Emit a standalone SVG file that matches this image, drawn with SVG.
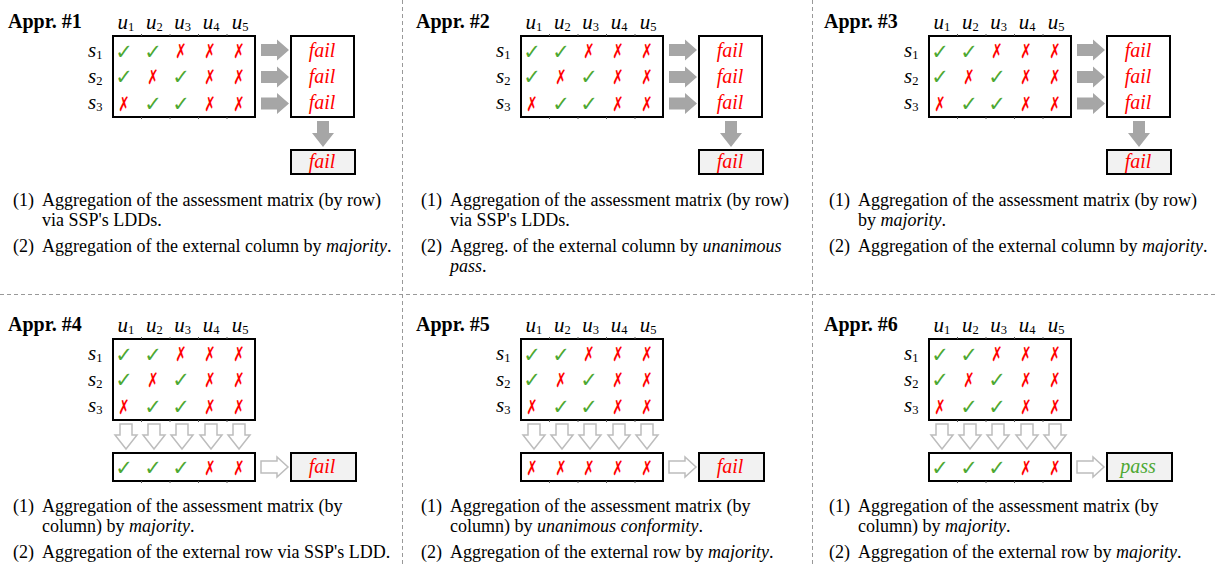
<svg xmlns="http://www.w3.org/2000/svg" width="1215" height="567" viewBox="0 0 1215 567">
<style>
.title{font-family:"Liberation Serif",serif;font-weight:bold;font-size:20px;fill:#000}
.var{font-family:"Liberation Serif",serif;font-style:italic;font-size:21px;fill:#000}
.sub{font-style:normal;font-size:12.5px}
.ok{font-family:"DejaVu Sans",sans-serif;font-size:21px;fill:#4da832;text-anchor:middle}
.no{font-family:"DejaVu Sans",sans-serif;font-size:20px;fill:#ff0000;text-anchor:middle;transform-box:fill-box;transform-origin:center;transform:scaleX(0.68)}
.box{fill:#fff;stroke:#000;stroke-width:2}
.res{fill:#f2f2f2;stroke:#000;stroke-width:2}
.tick{stroke:#555;stroke-width:1}
.fail{font-family:"Liberation Serif",serif;font-style:italic;font-size:20px;fill:#ff0000;text-anchor:middle}
.pass{font-family:"Liberation Serif",serif;font-style:italic;font-size:20px;fill:#4da832;text-anchor:middle}
.desc{font-family:"Liberation Serif",serif;font-size:18px;fill:#000}
.it{font-style:italic}
.garrow{fill:#a6a6a6}
.harrow{fill:#fff;stroke:#bdbdbd;stroke-width:1.5}
.sep{stroke:#999;stroke-width:1;stroke-dasharray:4 3;fill:none}
</style>

<g id="separators">
<line class="sep" x1="402.5" y1="0" x2="402.5" y2="567"/>
<line class="sep" x1="812.5" y1="0" x2="812.5" y2="567"/>
<line class="sep" x1="0" y1="294.5" x2="1215" y2="294.5"/>
</g>

<!-- Panel 1 -->
<g id="appr1">
<text class="title" x="8" y="28">Appr. #1</text>
<text class="var" x="117.5" y="29">u<tspan class="sub" dy="2">1</tspan></text>
<text class="var" x="146" y="29">u<tspan class="sub" dy="2">2</tspan></text>
<text class="var" x="174.3" y="29">u<tspan class="sub" dy="2">3</tspan></text>
<text class="var" x="202.7" y="29">u<tspan class="sub" dy="2">4</tspan></text>
<text class="var" x="231.7" y="29">u<tspan class="sub" dy="2">5</tspan></text>
<text class="var" x="88" y="57">s<tspan class="sub" dy="2">1</tspan></text>
<text class="var" x="88" y="83">s<tspan class="sub" dy="2">2</tspan></text>
<text class="var" x="88" y="109">s<tspan class="sub" dy="2">3</tspan></text>
<rect class="box" x="113" y="36" width="142" height="81"/>
<path class="tick" d="M141.5 34v2M170 34v2M198.5 34v2M227 34v2M141.5 117v2M170 117v2M198.5 117v2M227 117v2"/>
<text class="ok" x="124" y="58.5">✓</text><text class="ok" x="153" y="58.5">✓</text><text class="no" x="181" y="58.5">✗</text><text class="no" x="210" y="58.5">✗</text><text class="no" x="239" y="58.5">✗</text>
<text class="ok" x="124" y="84">✓</text><text class="no" x="153" y="84">✗</text><text class="ok" x="181" y="84">✓</text><text class="no" x="210" y="84">✗</text><text class="no" x="239" y="84">✗</text>
<text class="no" x="124" y="111">✗</text><text class="ok" x="153" y="111">✓</text><text class="ok" x="181" y="111">✓</text><text class="no" x="210" y="111">✗</text><text class="no" x="239" y="111">✗</text>
<rect class="box" x="291" y="36" width="63" height="81"/>
<text class="fail" x="322" y="57">fail</text>
<text class="fail" x="322" y="83">fail</text>
<text class="fail" x="322" y="109">fail</text>
<rect class="res" x="291" y="150" width="64" height="24"/>
<text class="fail" x="322" y="168">fail</text>
<text class="desc" x="13" y="206">(1)<tspan x="42">Aggregation of the assessment matrix (by row)</tspan></text>
<text class="desc" x="42" y="225.5">via SSP's LDDs.</text>
<text class="desc" x="13" y="252">(2)<tspan x="42">Aggregation of the external column by </tspan><tspan class="it">majority</tspan>.</text>
</g>

<!-- Panel 2 -->
<g id="appr2" transform="translate(408,0)">
<text class="title" x="8" y="28">Appr. #2</text>
<text class="var" x="117.5" y="29">u<tspan class="sub" dy="2">1</tspan></text>
<text class="var" x="146" y="29">u<tspan class="sub" dy="2">2</tspan></text>
<text class="var" x="174.3" y="29">u<tspan class="sub" dy="2">3</tspan></text>
<text class="var" x="202.7" y="29">u<tspan class="sub" dy="2">4</tspan></text>
<text class="var" x="231.7" y="29">u<tspan class="sub" dy="2">5</tspan></text>
<text class="var" x="88" y="57">s<tspan class="sub" dy="2">1</tspan></text>
<text class="var" x="88" y="83">s<tspan class="sub" dy="2">2</tspan></text>
<text class="var" x="88" y="109">s<tspan class="sub" dy="2">3</tspan></text>
<rect class="box" x="113" y="36" width="142" height="81"/>
<path class="tick" d="M141.5 34v2M170 34v2M198.5 34v2M227 34v2M141.5 117v2M170 117v2M198.5 117v2M227 117v2"/>
<text class="ok" x="124" y="58.5">✓</text><text class="ok" x="153" y="58.5">✓</text><text class="no" x="181" y="58.5">✗</text><text class="no" x="210" y="58.5">✗</text><text class="no" x="239" y="58.5">✗</text>
<text class="ok" x="124" y="84">✓</text><text class="no" x="153" y="84">✗</text><text class="ok" x="181" y="84">✓</text><text class="no" x="210" y="84">✗</text><text class="no" x="239" y="84">✗</text>
<text class="no" x="124" y="111">✗</text><text class="ok" x="153" y="111">✓</text><text class="ok" x="181" y="111">✓</text><text class="no" x="210" y="111">✗</text><text class="no" x="239" y="111">✗</text>
<rect class="box" x="291" y="36" width="63" height="81"/>
<text class="fail" x="322" y="57">fail</text>
<text class="fail" x="322" y="83">fail</text>
<text class="fail" x="322" y="109">fail</text>
<rect class="res" x="291" y="150" width="64" height="24"/>
<text class="fail" x="322" y="168">fail</text>
<text class="desc" x="13" y="206">(1)<tspan x="42">Aggregation of the assessment matrix (by row)</tspan></text>
<text class="desc" x="42" y="225.5">via SSP's LDDs.</text>
<text class="desc" x="13" y="252">(2)<tspan x="42">Aggreg. of the external column by </tspan><tspan class="it">unanimous</tspan></text>
<text class="desc" x="42" y="271.5"><tspan class="it">pass</tspan>.</text>
</g>

<!-- Panel 3 -->
<g id="appr3" transform="translate(816,0)">
<text class="title" x="8" y="28">Appr. #3</text>
<text class="var" x="117.5" y="29">u<tspan class="sub" dy="2">1</tspan></text>
<text class="var" x="146" y="29">u<tspan class="sub" dy="2">2</tspan></text>
<text class="var" x="174.3" y="29">u<tspan class="sub" dy="2">3</tspan></text>
<text class="var" x="202.7" y="29">u<tspan class="sub" dy="2">4</tspan></text>
<text class="var" x="231.7" y="29">u<tspan class="sub" dy="2">5</tspan></text>
<text class="var" x="88" y="57">s<tspan class="sub" dy="2">1</tspan></text>
<text class="var" x="88" y="83">s<tspan class="sub" dy="2">2</tspan></text>
<text class="var" x="88" y="109">s<tspan class="sub" dy="2">3</tspan></text>
<rect class="box" x="113" y="36" width="142" height="81"/>
<path class="tick" d="M141.5 34v2M170 34v2M198.5 34v2M227 34v2M141.5 117v2M170 117v2M198.5 117v2M227 117v2"/>
<text class="ok" x="124" y="58.5">✓</text><text class="ok" x="153" y="58.5">✓</text><text class="no" x="181" y="58.5">✗</text><text class="no" x="210" y="58.5">✗</text><text class="no" x="239" y="58.5">✗</text>
<text class="ok" x="124" y="84">✓</text><text class="no" x="153" y="84">✗</text><text class="ok" x="181" y="84">✓</text><text class="no" x="210" y="84">✗</text><text class="no" x="239" y="84">✗</text>
<text class="no" x="124" y="111">✗</text><text class="ok" x="153" y="111">✓</text><text class="ok" x="181" y="111">✓</text><text class="no" x="210" y="111">✗</text><text class="no" x="239" y="111">✗</text>
<rect class="box" x="291" y="36" width="63" height="81"/>
<text class="fail" x="322" y="57">fail</text>
<text class="fail" x="322" y="83">fail</text>
<text class="fail" x="322" y="109">fail</text>
<rect class="res" x="291" y="150" width="64" height="24"/>
<text class="fail" x="322" y="168">fail</text>
<text class="desc" x="13" y="206">(1)<tspan x="42">Aggregation of the assessment matrix (by row)</tspan></text>
<text class="desc" x="42" y="225.5">by <tspan class="it">majority</tspan>.</text>
<text class="desc" x="13" y="252">(2)<tspan x="42">Aggregation of the external column by </tspan><tspan class="it">majority</tspan>.</text>
</g>

<!-- Panel 4 -->
<g id="appr4" transform="translate(0,303)">
<text class="title" x="8" y="28">Appr. #4</text>
<text class="var" x="117.5" y="29">u<tspan class="sub" dy="2">1</tspan></text>
<text class="var" x="146" y="29">u<tspan class="sub" dy="2">2</tspan></text>
<text class="var" x="174.3" y="29">u<tspan class="sub" dy="2">3</tspan></text>
<text class="var" x="202.7" y="29">u<tspan class="sub" dy="2">4</tspan></text>
<text class="var" x="231.7" y="29">u<tspan class="sub" dy="2">5</tspan></text>
<text class="var" x="88" y="57">s<tspan class="sub" dy="2">1</tspan></text>
<text class="var" x="88" y="83">s<tspan class="sub" dy="2">2</tspan></text>
<text class="var" x="88" y="109">s<tspan class="sub" dy="2">3</tspan></text>
<rect class="box" x="113" y="36" width="142" height="81"/>
<path class="tick" d="M141.5 34v2M170 34v2M198.5 34v2M227 34v2M141.5 117v2M170 117v2M198.5 117v2M227 117v2"/>
<text class="ok" x="124" y="58.5">✓</text><text class="ok" x="153" y="58.5">✓</text><text class="no" x="181" y="58.5">✗</text><text class="no" x="210" y="58.5">✗</text><text class="no" x="239" y="58.5">✗</text>
<text class="ok" x="124" y="84">✓</text><text class="no" x="153" y="84">✗</text><text class="ok" x="181" y="84">✓</text><text class="no" x="210" y="84">✗</text><text class="no" x="239" y="84">✗</text>
<text class="no" x="124" y="111">✗</text><text class="ok" x="153" y="111">✓</text><text class="ok" x="181" y="111">✓</text><text class="no" x="210" y="111">✗</text><text class="no" x="239" y="111">✗</text>
<rect class="box" x="113" y="150" width="142" height="28"/>
<path class="tick" d="M141.5 178v2M170 178v2M198.5 178v2M227 178v2"/>
<text class="ok" x="124" y="172">✓</text><text class="ok" x="153" y="172">✓</text><text class="ok" x="181" y="172">✓</text><text class="no" x="210" y="172">✗</text><text class="no" x="239" y="172">✗</text>
<rect class="res" x="291" y="150" width="65" height="28"/>
<text class="fail" x="322" y="170">fail</text>
<text class="desc" x="13" y="209">(1)<tspan x="42">Aggregation of the assessment matrix (by</tspan></text>
<text class="desc" x="42" y="229">column) by <tspan class="it">majority</tspan>.</text>
<text class="desc" x="13" y="255">(2)<tspan x="42">Aggregation of the external row via SSP's LDD.</tspan></text>
</g>

<!-- Panel 5 -->
<g id="appr5" transform="translate(408,303)">
<text class="title" x="8" y="28">Appr. #5</text>
<text class="var" x="117.5" y="29">u<tspan class="sub" dy="2">1</tspan></text>
<text class="var" x="146" y="29">u<tspan class="sub" dy="2">2</tspan></text>
<text class="var" x="174.3" y="29">u<tspan class="sub" dy="2">3</tspan></text>
<text class="var" x="202.7" y="29">u<tspan class="sub" dy="2">4</tspan></text>
<text class="var" x="231.7" y="29">u<tspan class="sub" dy="2">5</tspan></text>
<text class="var" x="88" y="57">s<tspan class="sub" dy="2">1</tspan></text>
<text class="var" x="88" y="83">s<tspan class="sub" dy="2">2</tspan></text>
<text class="var" x="88" y="109">s<tspan class="sub" dy="2">3</tspan></text>
<rect class="box" x="113" y="36" width="142" height="81"/>
<path class="tick" d="M141.5 34v2M170 34v2M198.5 34v2M227 34v2M141.5 117v2M170 117v2M198.5 117v2M227 117v2"/>
<text class="ok" x="124" y="58.5">✓</text><text class="ok" x="153" y="58.5">✓</text><text class="no" x="181" y="58.5">✗</text><text class="no" x="210" y="58.5">✗</text><text class="no" x="239" y="58.5">✗</text>
<text class="ok" x="124" y="84">✓</text><text class="no" x="153" y="84">✗</text><text class="ok" x="181" y="84">✓</text><text class="no" x="210" y="84">✗</text><text class="no" x="239" y="84">✗</text>
<text class="no" x="124" y="111">✗</text><text class="ok" x="153" y="111">✓</text><text class="ok" x="181" y="111">✓</text><text class="no" x="210" y="111">✗</text><text class="no" x="239" y="111">✗</text>
<rect class="box" x="113" y="150" width="142" height="28"/>
<path class="tick" d="M141.5 178v2M170 178v2M198.5 178v2M227 178v2"/>
<text class="no" x="124" y="172">✗</text><text class="no" x="153" y="172">✗</text><text class="no" x="181" y="172">✗</text><text class="no" x="210" y="172">✗</text><text class="no" x="239" y="172">✗</text>
<rect class="res" x="291" y="150" width="65" height="28"/>
<text class="fail" x="322" y="170">fail</text>
<text class="desc" x="13" y="209">(1)<tspan x="42">Aggregation of the assessment matrix (by</tspan></text>
<text class="desc" x="42" y="229">column) by <tspan class="it">unanimous conformity</tspan>.</text>
<text class="desc" x="13" y="255">(2)<tspan x="42">Aggregation of the external row by </tspan><tspan class="it">majority</tspan>.</text>
</g>

<!-- Panel 6 -->
<g id="appr6" transform="translate(816,303)">
<text class="title" x="8" y="28">Appr. #6</text>
<text class="var" x="117.5" y="29">u<tspan class="sub" dy="2">1</tspan></text>
<text class="var" x="146" y="29">u<tspan class="sub" dy="2">2</tspan></text>
<text class="var" x="174.3" y="29">u<tspan class="sub" dy="2">3</tspan></text>
<text class="var" x="202.7" y="29">u<tspan class="sub" dy="2">4</tspan></text>
<text class="var" x="231.7" y="29">u<tspan class="sub" dy="2">5</tspan></text>
<text class="var" x="88" y="57">s<tspan class="sub" dy="2">1</tspan></text>
<text class="var" x="88" y="83">s<tspan class="sub" dy="2">2</tspan></text>
<text class="var" x="88" y="109">s<tspan class="sub" dy="2">3</tspan></text>
<rect class="box" x="113" y="36" width="142" height="81"/>
<path class="tick" d="M141.5 34v2M170 34v2M198.5 34v2M227 34v2M141.5 117v2M170 117v2M198.5 117v2M227 117v2"/>
<text class="ok" x="124" y="58.5">✓</text><text class="ok" x="153" y="58.5">✓</text><text class="no" x="181" y="58.5">✗</text><text class="no" x="210" y="58.5">✗</text><text class="no" x="239" y="58.5">✗</text>
<text class="ok" x="124" y="84">✓</text><text class="no" x="153" y="84">✗</text><text class="ok" x="181" y="84">✓</text><text class="no" x="210" y="84">✗</text><text class="no" x="239" y="84">✗</text>
<text class="no" x="124" y="111">✗</text><text class="ok" x="153" y="111">✓</text><text class="ok" x="181" y="111">✓</text><text class="no" x="210" y="111">✗</text><text class="no" x="239" y="111">✗</text>
<rect class="box" x="113" y="150" width="142" height="28"/>
<path class="tick" d="M141.5 178v2M170 178v2M198.5 178v2M227 178v2"/>
<text class="ok" x="124" y="172">✓</text><text class="ok" x="153" y="172">✓</text><text class="ok" x="181" y="172">✓</text><text class="no" x="210" y="172">✗</text><text class="no" x="239" y="172">✗</text>
<rect class="res" x="291" y="150" width="65" height="28"/>
<text class="pass" x="322" y="170">pass</text>
<text class="desc" x="13" y="209">(1)<tspan x="42">Aggregation of the assessment matrix (by</tspan></text>
<text class="desc" x="42" y="229">column) by <tspan class="it">majority</tspan>.</text>
<text class="desc" x="13" y="255">(2)<tspan x="42">Aggregation of the external row by </tspan><tspan class="it">majority</tspan>.</text>
</g>

<g id="connectors">
<g id="conn-top-1">
<polygon class="garrow" points="261,44 277,44 277,39.5 289,50 277,60.5 277,56 261,56"/>
<polygon class="garrow" points="261,71 277,71 277,66.5 289,77 277,87.5 277,83 261,83"/>
<polygon class="garrow" points="261,97.5 277,97.5 277,93 289,103.5 277,114 277,109.5 261,109.5"/>
<polygon class="garrow" points="317,121 329,121 329,133 334,133 323,147 312,133 317,133"/>
</g>
<g id="conn-top-2" transform="translate(408,0)">
<polygon class="garrow" points="261,44 277,44 277,39.5 289,50 277,60.5 277,56 261,56"/>
<polygon class="garrow" points="261,71 277,71 277,66.5 289,77 277,87.5 277,83 261,83"/>
<polygon class="garrow" points="261,97.5 277,97.5 277,93 289,103.5 277,114 277,109.5 261,109.5"/>
<polygon class="garrow" points="317,121 329,121 329,133 334,133 323,147 312,133 317,133"/>
</g>
<g id="conn-top-3" transform="translate(816,0)">
<polygon class="garrow" points="261,44 277,44 277,39.5 289,50 277,60.5 277,56 261,56"/>
<polygon class="garrow" points="261,71 277,71 277,66.5 289,77 277,87.5 277,83 261,83"/>
<polygon class="garrow" points="261,97.5 277,97.5 277,93 289,103.5 277,114 277,109.5 261,109.5"/>
<polygon class="garrow" points="317,121 329,121 329,133 334,133 323,147 312,133 317,133"/>
</g>
<g id="conn-bot-4" transform="translate(0,303)">
<polygon class="harrow" points="120,121 132,121 132,132 137,132 126,146 115,132 120,132"/>
<polygon class="harrow" points="148,121 160,121 160,132 165,132 154,146 143,132 148,132"/>
<polygon class="harrow" points="176,121 188,121 188,132 193,132 182,146 171,132 176,132"/>
<polygon class="harrow" points="205,121 217,121 217,132 222,132 211,146 200,132 205,132"/>
<polygon class="harrow" points="233,121 245,121 245,132 250,132 239,146 228,132 233,132"/>
<polygon class="harrow" points="261,158 277,158 277,154 288,164 277,174 277,170 261,170"/>
</g>
<g id="conn-bot-5" transform="translate(408,303)">
<polygon class="harrow" points="120,121 132,121 132,132 137,132 126,146 115,132 120,132"/>
<polygon class="harrow" points="148,121 160,121 160,132 165,132 154,146 143,132 148,132"/>
<polygon class="harrow" points="176,121 188,121 188,132 193,132 182,146 171,132 176,132"/>
<polygon class="harrow" points="205,121 217,121 217,132 222,132 211,146 200,132 205,132"/>
<polygon class="harrow" points="233,121 245,121 245,132 250,132 239,146 228,132 233,132"/>
<polygon class="harrow" points="261,158 277,158 277,154 288,164 277,174 277,170 261,170"/>
</g>
<g id="conn-bot-6" transform="translate(816,303)">
<polygon class="harrow" points="120,121 132,121 132,132 137,132 126,146 115,132 120,132"/>
<polygon class="harrow" points="148,121 160,121 160,132 165,132 154,146 143,132 148,132"/>
<polygon class="harrow" points="176,121 188,121 188,132 193,132 182,146 171,132 176,132"/>
<polygon class="harrow" points="205,121 217,121 217,132 222,132 211,146 200,132 205,132"/>
<polygon class="harrow" points="233,121 245,121 245,132 250,132 239,146 228,132 233,132"/>
<polygon class="harrow" points="261,158 277,158 277,154 288,164 277,174 277,170 261,170"/>
</g>
</g>
</svg>
